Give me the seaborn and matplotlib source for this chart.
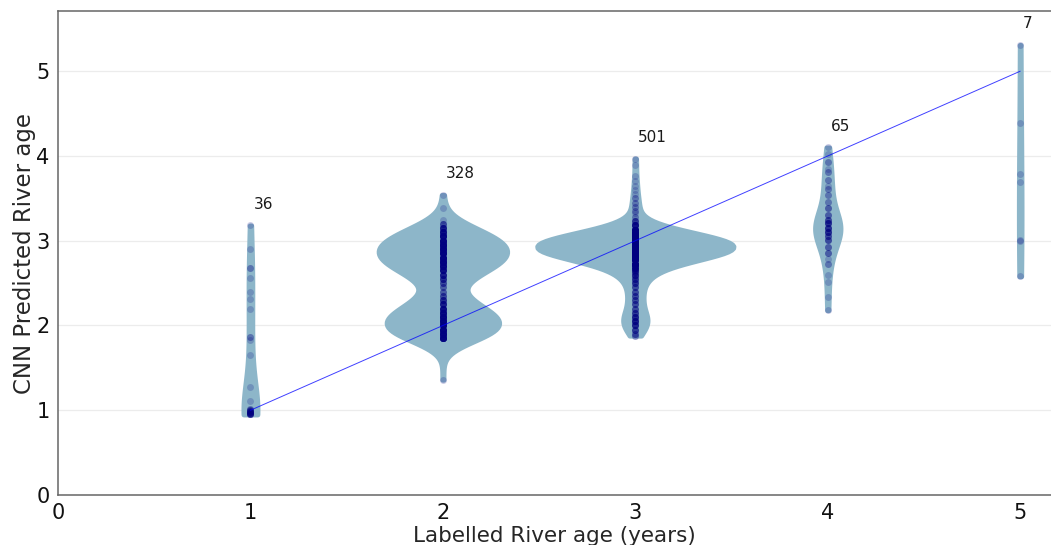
import numpy as np
import pandas as pd
import matplotlib
matplotlib.use("Agg")
import matplotlib.pyplot as plt
import seaborn as sns

# Labelled river age (years) on the x axis
ages = [1, 2, 3, 4, 5]

# CNN predictions per labelled age, stored as (value, number of samples)
age1_values = [0.95, 0.96, 0.97, 0.98, 0.99, 1.00, 1.02, 1.11, 1.28, 1.65,
               1.83, 1.87, 2.19, 2.31, 2.40, 2.56, 2.68, 2.90, 3.18]
age1_counts = [3, 3, 4, 4, 3, 3, 2, 1, 1, 1,
               1, 2, 1, 1, 1, 1, 2, 1, 1]

age2_values = [1.36, 1.85, 1.90, 1.95, 2.00, 2.05, 2.10, 2.15, 2.20, 2.25,
               2.30, 2.35, 2.40, 2.45, 2.50, 2.55, 2.60, 2.65, 2.70, 2.75,
               2.80, 2.85, 2.90, 2.95, 3.00, 3.05, 3.10, 3.15, 3.20, 3.25,
               3.39, 3.54]
age2_counts = [1, 16, 16, 16, 16, 16, 15, 13, 11, 8,
               6, 4, 3, 3, 4, 6, 8, 11, 14, 17,
               17, 17, 17, 17, 16, 14, 11, 8, 4, 1,
               1, 1]

age3_values = [1.88, 1.90, 1.95, 2.00, 2.05, 2.10, 2.15, 2.20, 2.25, 2.30,
               2.35, 2.40, 2.45, 2.50, 2.53, 2.55, 2.58, 2.60, 2.63, 2.65,
               2.68, 2.70, 2.73, 2.78, 2.83, 2.88, 2.93, 2.98, 3.03, 3.08,
               3.13, 3.18, 3.23, 3.28, 3.33, 3.35, 3.40, 3.45, 3.50, 3.55,
               3.60, 3.65, 3.70, 3.76, 3.89, 3.97]
age3_counts = [2, 3, 5, 7, 8, 7, 5, 4, 4, 4,
               4, 4, 4, 5, 1, 5, 2, 5, 5, 5,
               10, 4, 19, 32, 46, 56, 60, 55, 46, 32,
               19, 10, 5, 2, 1, 2, 2, 2, 2, 1,
               1, 1, 1, 1, 1, 1]

age4_values = [2.18, 2.34, 2.51, 2.60, 2.72, 2.78, 2.85, 2.93, 3.01, 3.05,
               3.10, 3.15, 3.21, 3.25, 3.30, 3.39, 3.46, 3.54, 3.61, 3.65,
               3.72, 3.81, 3.85, 3.93, 4.02, 4.10]
age4_counts = [1, 1, 1, 1, 2, 1, 3, 3, 4, 4,
               6, 6, 6, 4, 3, 3, 2, 2, 2, 1,
               2, 2, 1, 2, 1, 1]

age5_values = [2.58, 3.00, 3.01, 3.69, 3.79, 4.39, 5.31]
age5_counts = [1, 1, 1, 1, 1, 1, 1]

groups = [
    (age1_values, age1_counts),
    (age2_values, age2_counts),
    (age3_values, age3_counts),
    (age4_values, age4_counts),
    (age5_values, age5_counts),
]

frames = []
for age, (vals, cnts) in zip(ages, groups):
    preds = np.repeat(vals, cnts)
    frames.append(pd.DataFrame({"label": age, "pred": preds}))
df = pd.concat(frames, ignore_index=True)

sns.set_style("white")
plt.rcParams["font.family"] = ["DejaVu Sans"]

fig = plt.figure(figsize=(10.51, 5.45), dpi=100)
ax = fig.add_axes([0.0552, 0.0917, 0.9448, 0.8881])

violin_color = "#8db6c9"
sns.violinplot(data=df, x="label", y="pred", native_scale=True,
               density_norm="count", cut=0, inner=None, width=1.02,
               color=violin_color, saturation=1, linewidth=3.5,
               linecolor=violin_color, ax=ax)

sns.stripplot(data=df, x="label", y="pred", native_scale=True, jitter=False,
              color="navy", alpha=0.2, size=5, linewidth=0, ax=ax)

# ideal prediction line
ax.plot(ages, ages, color="blue", linewidth=0.7, alpha=0.75, zorder=5)

# sample count above each violin
for age in ages:
    sub = df.loc[df["label"] == age, "pred"]
    ax.text(age + 0.015, sub.max() + 0.2, str(len(sub)), ha="left",
            va="baseline", fontsize=11, color="#1a1a1a", zorder=6)

ax.set_xlim(0, 5.16)
ax.set_ylim(0, 5.71)
ax.set_xticks([0, 1, 2, 3, 4, 5])
ax.set_yticks([0, 1, 2, 3, 4, 5])
ax.tick_params(axis="both", labelsize=15, length=4, width=1,
               color="#777777", labelcolor="#111111", pad=2)
ax.set_xlabel("Labelled River age (years)", fontsize=15.5, labelpad=2)
ax.set_ylabel("CNN Predicted River age", fontsize=16.5, labelpad=0)

ax.yaxis.grid(True, color="#ececec", linewidth=0.9)
ax.xaxis.grid(False)
ax.set_axisbelow(True)

for side in ["left", "bottom", "top"]:
    ax.spines[side].set_color("#666666")
    ax.spines[side].set_linewidth(1.1)
ax.spines["right"].set_visible(False)

fig.savefig("out.png", dpi=100)
